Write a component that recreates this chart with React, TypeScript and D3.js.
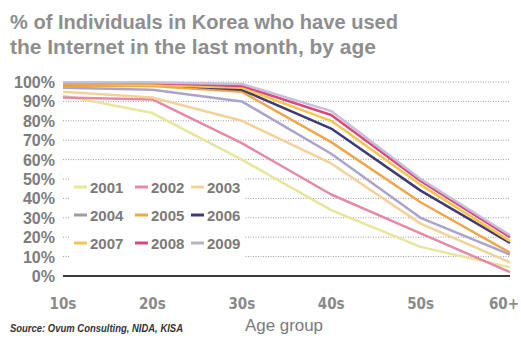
import React from "react";
import * as d3 from "d3";

// Age groups on the x axis
const ageGroups = ["10s", "20s", "30s", "40s", "50s", "60+"];

// Share of each age group (in %) that used the Internet in the last month
const y2001 = [93, 84, 60, 34, 15, 4.5];
const y2002 = [92, 91, 68.5, 42, 22, 2];
const y2003 = [95, 92, 80, 58, 27, 7];
const y2004 = [97, 96, 90, 63, 30, 11];
const y2005 = [98, 98, 95, 69, 38, 12];
const y2006 = [99, 99, 96, 76, 44, 17];
const y2007 = [99, 98.5, 97, 80, 47, 18];
const y2008 = [99.5, 99.5, 98, 83, 49, 20];
const y2009 = [99.8, 99.7, 99, 85, 50, 21];

const years = ["2001", "2002", "2003", "2004", "2005", "2006", "2007", "2008", "2009"];
const seriesValues = [y2001, y2002, y2003, y2004, y2005, y2006, y2007, y2008, y2009];
const lineColors = [
  "#e8e59c", "#e48aa6", "#f3d29a", "#aaa4cc", "#f0a64a",
  "#3e3a78", "#f4c64c", "#d9487c", "#c9bddc",
];
const swatchColors = [
  "#e8e59c", "#e48aa6", "#f3d29a", "#9c9ca8", "#f0a64a",
  "#3e3a78", "#f4c64c", "#d9487c", "#b9b4c4",
];

const yTicks = [0, 10, 20, 30, 40, 50, 60, 70, 80, 90, 100];

const W = 521;
const H = 340;
const sans = "'Liberation Sans', Arial, sans-serif";
const narrow = "'Liberation Sans Narrow', 'Arial Narrow', 'DejaVu Sans Condensed', sans-serif";

export default function App() {
  const x = d3.scalePoint<string>().domain(ageGroups).range([63, 510]);
  const y = d3.scaleLinear().domain([0, 100]).range([276, 82]);
  const line = d3
    .line<number>()
    .x((_, i) => x(ageGroups[i]) as number)
    .y((v) => y(v));

  const [x0, x1] = x.range();

  const legendCols = [74, 135, 191];
  const legendRows = [187, 215, 243];

  return (
    <svg
      width={W}
      height={H}
      style={{ position: "absolute", left: 0, top: 0, background: "#fff" }}
    >
      <rect width={W} height={H} fill="#fff" />

      {/* Title */}
      <g fill="#8e8e8e" fontFamily={sans} fontWeight="bold" fontSize={21}>
        <text x={10} y={29} textLength={388} lengthAdjust="spacingAndGlyphs">
          % of Individuals in Korea who have used
        </text>
        <text x={10} y={54} textLength={366} lengthAdjust="spacingAndGlyphs">
          the Internet in the last month, by age
        </text>
      </g>

      {/* Dotted gridlines */}
      {yTicks
        .filter((t) => t > 0)
        .map((t) => (
          <line
            key={t}
            x1={x0}
            x2={x1}
            y1={y(t)}
            y2={y(t)}
            stroke="#9a9a9a"
            strokeWidth={1}
            strokeDasharray="1 1.5"
          />
        ))}

      {/* Baseline */}
      <line x1={x0} x2={x1} y1={y(0)} y2={y(0)} stroke="#3a3a3a" strokeWidth={2} />

      {/* Y tick labels */}
      <g fill="#7c7c7c" fontFamily={sans} fontWeight="bold" fontSize={16} textAnchor="end">
        {yTicks.map((t) => (
          <text key={t} x={55} y={y(t) + 6}>
            {t}%
          </text>
        ))}
      </g>

      {/* X tick labels; the last one is kept inside the right edge */}
      <g fill="#8a8a8a" fontFamily={narrow} fontWeight="bold" fontSize={15}>
        {ageGroups.map((a, i) => {
          const last = i === ageGroups.length - 1;
          return (
            <text
              key={a}
              x={last ? W - 2 : x(a)}
              y={309}
              textAnchor={last ? "end" : "middle"}
            >
              {a}
            </text>
          );
        })}
      </g>

      {/* Series lines */}
      {seriesValues.map((vals, i) => (
        <path
          key={years[i]}
          d={line(vals) ?? undefined}
          fill="none"
          stroke={lineColors[i]}
          strokeWidth={2.5}
          strokeLinejoin="round"
        />
      ))}

      {/* Legend */}
      <rect x={70} y={171} width={175} height={90} fill="#fff" />
      {years.map((yr, i) => {
        const cx = legendCols[i % 3];
        const cy = legendRows[Math.floor(i / 3)];
        return (
          <g key={yr}>
            <line
              x1={cx}
              x2={cx + 13}
              y1={cy}
              y2={cy}
              stroke={swatchColors[i]}
              strokeWidth={3}
            />
            <text
              x={cx + 16}
              y={cy + 6}
              fill="#7a7a7a"
              fontFamily={sans}
              fontWeight="bold"
              fontSize={15}
            >
              {yr}
            </text>
          </g>
        );
      })}

      {/* Axis title */}
      <text
        x={245}
        y={331}
        fill="#7a7a7a"
        fontFamily={sans}
        fontSize={16}
        textLength={78}
        lengthAdjust="spacingAndGlyphs"
      >
        Age group
      </text>

      {/* Source note */}
      <text
        x={10}
        y={332}
        fill="#333"
        fontFamily={sans}
        fontWeight="bold"
        fontStyle="italic"
        fontSize={10}
        textLength={173}
        lengthAdjust="spacingAndGlyphs"
      >
        Source: Ovum Consulting, NIDA, KISA
      </text>
    </svg>
  );
}
